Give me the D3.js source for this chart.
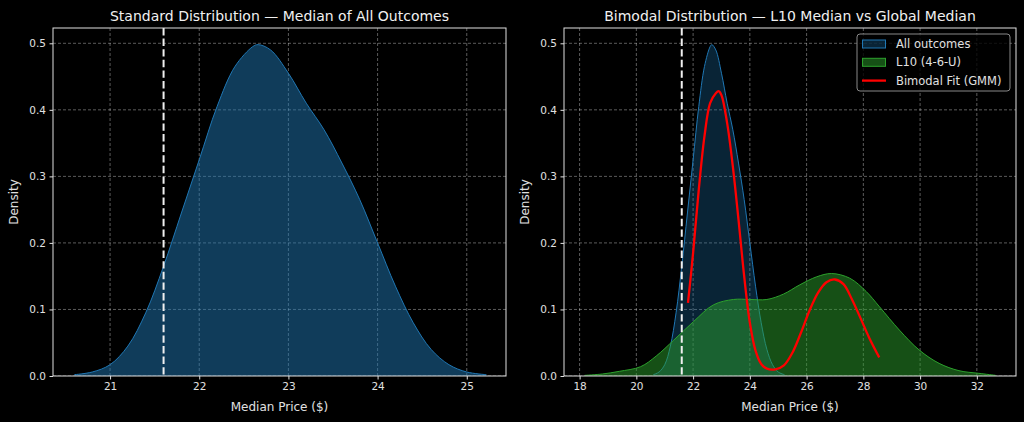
<!DOCTYPE html>
<html>
<head>
<meta charset="utf-8">
<script src="https://cdn.jsdelivr.net/npm/d3@7"></script>
<style>
body { margin: 0; background: #000; }
svg { display: block; font-family: "DejaVu Sans", sans-serif; }
</style>
</head>
<body>
<div id="chart"></div>
<script>
// KDE of all outcomes
var allX = [20.6, 20.8, 21.0, 21.2, 21.4, 21.6, 21.8, 22.0, 22.2, 22.4, 22.6, 22.66, 22.8, 23.0, 23.2, 23.4, 23.6, 23.8, 24.0, 24.2, 24.4, 24.6, 24.8, 25.0, 25.22];
var allY = [0.002, 0.006, 0.017, 0.045, 0.095, 0.165, 0.245, 0.325, 0.405, 0.465, 0.495, 0.498, 0.490, 0.455, 0.410, 0.370, 0.320, 0.265, 0.200, 0.135, 0.080, 0.040, 0.017, 0.006, 0.002];

// KDE of L10 (4-6-U)
var l10X = [18.18, 18.8, 19.4, 20.15, 20.7, 21.32, 22.02, 22.72, 23.42, 24.0, 24.6, 25.18, 25.76, 26.35, 26.88, 27.52, 28.1, 28.57, 29.27, 29.97, 30.67, 31.37, 32.07, 32.66];
var l10Y = [0.001, 0.003, 0.007, 0.014, 0.030, 0.054, 0.082, 0.107, 0.115, 0.115, 0.115, 0.123, 0.137, 0.149, 0.154, 0.147, 0.127, 0.104, 0.069, 0.039, 0.019, 0.008, 0.004, 0.001];

// bimodal GMM fit
var gmmX = [21.82, 22.0, 22.2, 22.4, 22.6, 22.8, 22.9, 23.0, 23.2, 23.4, 23.6, 23.8, 24.0, 24.2, 24.4, 24.6, 24.9, 25.2, 25.5, 25.8, 26.1, 26.4, 26.7, 27.0, 27.3, 27.6, 27.9, 28.2, 28.56];
var gmmY = [0.110, 0.185, 0.280, 0.360, 0.410, 0.425, 0.428, 0.422, 0.380, 0.315, 0.235, 0.150, 0.080, 0.038, 0.018, 0.011, 0.010, 0.016, 0.035, 0.065, 0.098, 0.125, 0.141, 0.145, 0.138, 0.115, 0.087, 0.058, 0.028];

var globalMedian = 21.6;
var leftTicks = [21, 22, 23, 24, 25];
var rightTicks = [18, 20, 22, 24, 26, 28, 30, 32];
var yTicks = [0, 0.1, 0.2, 0.3, 0.4, 0.5];

function pts(xs, ys) { return xs.map(function(x, i) { return [x, ys[i]]; }); }

var W = 1024, H = 422;
var plotTop = 28, plotBottom = 376;

var svg = d3.select("#chart").append("svg")
  .attr("width", W).attr("height", H);

svg.append("rect").attr("width", W).attr("height", H).attr("fill", "#000");

function panel(opt) {
  var x = d3.scaleLinear().domain(opt.xDomain).range([opt.left, opt.right]);
  var y = d3.scaleLinear().domain([0, 0.523]).range([plotBottom, plotTop]);
  var g = svg.append("g");

  var clipId = "clip" + opt.id;
  svg.append("clipPath").attr("id", clipId).append("rect")
    .attr("x", opt.left).attr("y", plotTop)
    .attr("width", opt.right - opt.left).attr("height", plotBottom - plotTop);
  var plot = g.append("g").attr("clip-path", "url(#" + clipId + ")");

  var area = d3.area().x(function(d) { return x(d[0]); })
    .y0(y(0)).y1(function(d) { return y(d[1]); })
    .curve(d3.curveCatmullRom.alpha(0.5));
  var line = d3.line().x(function(d) { return x(d[0]); })
    .y(function(d) { return y(d[1]); })
    .curve(d3.curveCatmullRom.alpha(0.5));

  // grid
  plot.selectAll(".gx").data(opt.ticks).enter().append("line")
    .attr("x1", function(d) { return x(d); }).attr("x2", function(d) { return x(d); })
    .attr("y1", plotTop).attr("y2", plotBottom)
    .attr("stroke", "#fff").attr("stroke-opacity", 0.45)
    .attr("stroke-width", 0.8).attr("stroke-dasharray", "3,2");
  plot.selectAll(".gy").data(yTicks).enter().append("line")
    .attr("y1", function(d) { return y(d); }).attr("y2", function(d) { return y(d); })
    .attr("x1", opt.left).attr("x2", opt.right)
    .attr("stroke", "#fff").attr("stroke-opacity", 0.45)
    .attr("stroke-width", 0.8).attr("stroke-dasharray", "3,2");

  opt.series.forEach(function(s) {
    if (s.fill) {
      plot.append("path").datum(s.data).attr("d", area)
        .attr("fill", s.fill).attr("fill-opacity", s.alpha);
    }
    plot.append("path").datum(s.data).attr("d", line)
      .attr("fill", "none").attr("stroke", s.stroke)
      .attr("stroke-width", s.width);
  });

  // global median line
  plot.append("line")
    .attr("x1", x(globalMedian)).attr("x2", x(globalMedian))
    .attr("y1", plotTop).attr("y2", plotBottom)
    .attr("stroke", "#f0f0f0").attr("stroke-width", 2)
    .attr("stroke-dasharray", "7.4,3.2");

  // axes
  var xAxis = g.append("g").attr("transform", "translate(0," + plotBottom + ")")
    .call(d3.axisBottom(x).tickValues(opt.ticks).tickSize(3.5).tickPadding(3.5).tickFormat(d3.format("d")));
  var yAxis = g.append("g").attr("transform", "translate(" + opt.left + ",0)")
    .call(d3.axisLeft(y).tickValues(yTicks).tickSize(3.5).tickPadding(3.5).tickFormat(d3.format(".1f")));
  [xAxis, yAxis].forEach(function(a) {
    a.select(".domain").remove();
    a.selectAll("line").attr("stroke", "#e0e0e0");
    a.selectAll("text").attr("fill", "#e0e0e0").style("font-size", "10.5px")
      .style("font-family", "DejaVu Sans");
  });

  g.append("rect").attr("x", opt.left).attr("y", plotTop)
    .attr("width", opt.right - opt.left).attr("height", plotBottom - plotTop)
    .attr("fill", "none").attr("stroke", "#e0e0e0").attr("stroke-width", 1);

  g.append("text").attr("x", (opt.left + opt.right) / 2).attr("y", 21)
    .attr("text-anchor", "middle").attr("fill", "#f0f0f0")
    .style("font-size", "14px").text(opt.title);
  g.append("text").attr("x", (opt.left + opt.right) / 2).attr("y", 411)
    .attr("text-anchor", "middle").attr("fill", "#e0e0e0")
    .style("font-size", "12px").text("Median Price ($)");
  g.append("text")
    .attr("transform", "translate(" + (opt.left - 35) + "," + ((plotTop + plotBottom) / 2) + ") rotate(-90)")
    .attr("text-anchor", "middle").attr("fill", "#e0e0e0")
    .style("font-size", "12px").text("Density");
  return g;
}

panel({
  id: 1, left: 53, right: 506, xDomain: [20.36, 25.44], ticks: leftTicks,
  title: "Standard Distribution \u2014 Median of All Outcomes",
  series: [
    { data: pts(allX, allY), fill: "#1f77b4", alpha: 0.5, stroke: "#1f77b4", width: 1 }
  ]
});

var right = panel({
  id: 2, left: 564, right: 1016, xDomain: [17.45, 33.38], ticks: rightTicks,
  title: "Bimodal Distribution \u2014 L10 Median vs Global Median",
  series: [
    { data: pts(allX, allY), fill: "#1f77b4", alpha: 0.3, stroke: "#1f77b4", width: 1 },
    { data: pts(l10X, l10Y), fill: "#2ca02c", alpha: 0.5, stroke: "#2ca02c", width: 1 },
    { data: pts(gmmX, gmmY), fill: null, stroke: "#ff0000", width: 2.3 }
  ]
});

// legend
var legItems = [
  { label: "All outcomes", fill: "#1f77b4", alpha: 0.3, stroke: "#1f77b4" },
  { label: "L10 (4-6-U)", fill: "#2ca02c", alpha: 0.5, stroke: "#2ca02c" },
  { label: "Bimodal Fit (GMM)", line: "#ff0000" }
];
var leg = right.append("g").attr("transform", "translate(857,34)");
leg.append("rect").attr("width", 153).attr("height", 57).attr("rx", 3)
  .attr("fill", "#000").attr("fill-opacity", 0.8)
  .attr("stroke", "#888").attr("stroke-width", 1);
legItems.forEach(function(d, i) {
  var yy = 10 + i * 18.3;
  var row = leg.append("g").attr("transform", "translate(0," + yy + ")");
  if (d.line) {
    row.append("line").attr("x1", 5).attr("x2", 29).attr("y1", 0).attr("y2", 0)
      .attr("stroke", d.line).attr("stroke-width", 2.3);
  } else {
    row.append("rect").attr("x", 5.5).attr("y", -4).attr("width", 23).attr("height", 8)
      .attr("fill", d.fill).attr("fill-opacity", d.alpha)
      .attr("stroke", d.stroke).attr("stroke-width", 1);
  }
  row.append("text").attr("x", 39).attr("y", 0).attr("dy", "0.35em")
    .attr("fill", "#e0e0e0").style("font-size", "11.5px").text(d.label);
});
</script>
</body>
</html>
